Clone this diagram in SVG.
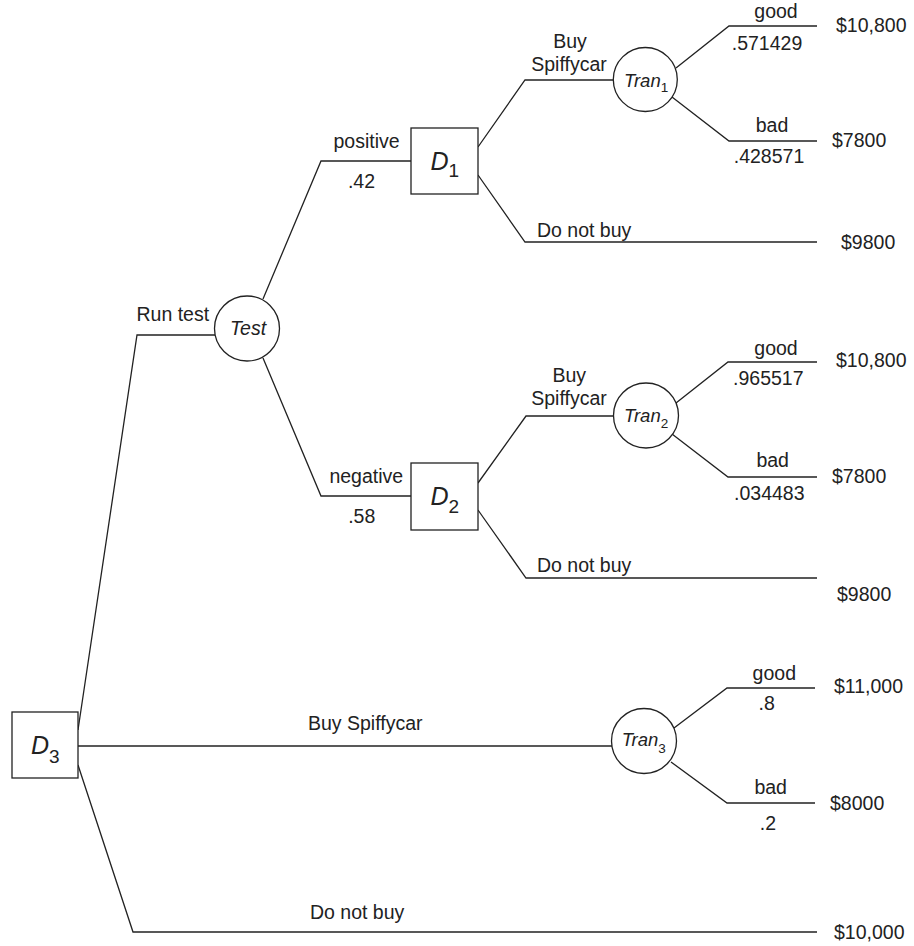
<svg xmlns="http://www.w3.org/2000/svg" width="914" height="946" viewBox="0 0 914 946">
<style>
.bg{fill:#ffffff}
.ln{fill:none;stroke:#222;stroke-width:1.3}
.nd{fill:#ffffff;stroke:#222;stroke-width:1.3}
text{font-family:"Liberation Sans",Arial,sans-serif;font-size:19.5px;fill:#222}
.c{text-anchor:middle}
.it{font-style:italic}
.dl{font-size:25px;font-style:italic}
.ds{font-size:19px;font-style:normal}
.tl{font-size:18.5px;font-style:italic}
.ts{font-size:13.5px;font-style:normal}
</style>
<rect class="bg" x="0" y="0" width="914" height="946"/>
<g id="connectors">
<polyline class="ln" points="78,730 137,335 215,335"/>
<polyline class="ln" points="263,299 321,161 411,161"/>
<polyline class="ln" points="263,358 321,496 411,496"/>
<polyline class="ln" points="478,147 525,80 613,80"/>
<polyline class="ln" points="478,175 525,242 817,242"/>
<polyline class="ln" points="676,68 729,26 817,26"/>
<polyline class="ln" points="672,97 729,141 817,141"/>
<polyline class="ln" points="478,483 526,416 613,416"/>
<polyline class="ln" points="478,510 526,578 817,578"/>
<polyline class="ln" points="676,403 728,362 817,362"/>
<polyline class="ln" points="672,434 728,477 817,477"/>
<polyline class="ln" points="78,746 612,746"/>
<polyline class="ln" points="674,728 727,688 815,688"/>
<polyline class="ln" points="671,762 727,803 815,803"/>
<polyline class="ln" points="78,765 133,932 817,932"/>
</g>
<g id="labels">
<text x="136.5" y="321">Run test</text>
<text class="c" x="366.5" y="148">positive</text>
<text class="c" x="361.5" y="188">.42</text>
<text class="c" x="366.3" y="483">negative</text>
<text class="c" x="361.7" y="523">.58</text>
<text class="c" x="570" y="48">Buy</text>
<text class="c" x="569" y="71">Spiffycar</text>
<text x="537" y="237">Do not buy</text>
<text class="c" x="569.3" y="382">Buy</text>
<text class="c" x="569" y="405">Spiffycar</text>
<text x="537" y="572">Do not buy</text>
<text class="c" x="776" y="18">good</text>
<text class="c" x="767" y="50">.571429</text>
<text class="c" x="772" y="132">bad</text>
<text class="c" x="769" y="163">.428571</text>
<text class="c" x="776" y="355">good</text>
<text class="c" x="768.3" y="385">.965517</text>
<text class="c" x="772.7" y="467">bad</text>
<text class="c" x="769.3" y="500">.034483</text>
<text x="308" y="730">Buy Spiffycar</text>
<text class="c" x="774.3" y="680">good</text>
<text class="c" x="766.7" y="710">.8</text>
<text class="c" x="770.7" y="794">bad</text>
<text class="c" x="768" y="830">.2</text>
<text x="310" y="919">Do not buy</text>
<text x="836" y="31.5">$10,800</text>
<text x="832" y="147">$7800</text>
<text x="841" y="249">$9800</text>
<text x="836" y="367">$10,800</text>
<text x="832" y="483">$7800</text>
<text x="837" y="601">$9800</text>
<text x="834" y="693">$11,000</text>
<text x="830" y="810">$8000</text>
<text x="834" y="939">$10,000</text>
</g>
<g id="D3">
<rect class="nd" x="12" y="712" width="66" height="66"/>
<text class="dl" x="31" y="754">D<tspan class="ds" dy="9">3</tspan></text>
</g>
<g id="Test">
<circle class="nd" cx="247" cy="328.5" r="32.5"/>
<text class="it c" x="248" y="334.5">Test</text>
</g>
<g id="D1">
<rect class="nd" x="411" y="128" width="67" height="66"/>
<text class="dl" x="430.5" y="170">D<tspan class="ds" dy="7">1</tspan></text>
</g>
<g id="D2">
<rect class="nd" x="411" y="463" width="67" height="67"/>
<text class="dl" x="430.5" y="505">D<tspan class="ds" dy="8">2</tspan></text>
</g>
<g id="Tran1">
<circle class="nd" cx="645.3" cy="79.5" r="32"/>
<text class="tl" x="624" y="86.7">Tran<tspan class="ts" dy="5">1</tspan></text>
</g>
<g id="Tran2">
<circle class="nd" cx="646" cy="415.5" r="32.5"/>
<text class="tl" x="624" y="421.7">Tran<tspan class="ts" dy="6">2</tspan></text>
</g>
<g id="Tran3">
<circle class="nd" cx="644" cy="741" r="32.5"/>
<text class="tl" x="621.7" y="746">Tran<tspan class="ts" dy="7">3</tspan></text>
</g>
</svg>
